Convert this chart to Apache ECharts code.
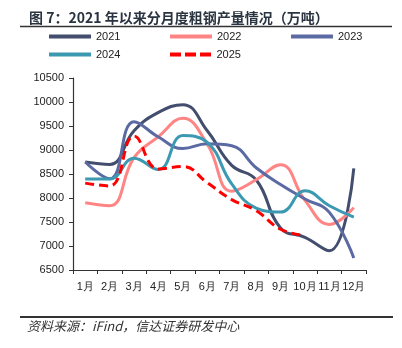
<!DOCTYPE html>
<html>
<head>
<meta charset="utf-8">
<style>
  html, body { margin: 0; padding: 0; background: #ffffff; }
  #chart { width: 402px; height: 348px; }
</style>
<script src="https://cdn.jsdelivr.net/npm/echarts@6/dist/echarts.min.js"></script>
</head>
<body>
<div id="chart"></div>
<script>
// Monthly crude steel output (10k tonnes)
const months = ['1月', '2月', '3月', '4月', '5月', '6月', '7月', '8月', '9月', '10月', '11月', '12月'];
const y2021 = [8750, 8700, 9402, 9785, 9945, 9400, 8679, 8380, 7375, 7180, 6900, 8619];
const y2022 = [7900, 7840, 8840, 9278, 9661, 9120, 8143, 8380, 8695, 7950, 7450, 7800];
const y2023 = [8750, 8400, 9590, 9270, 9030, 9130, 9090, 8630, 8280, 7980, 7700, 6750];
const y2024 = [8398, 8398, 8827, 8594, 9300, 9161, 8294, 7790, 7707, 8150, 7839, 7600];
const y2025 = [8310, 8250, 9290, 8602, 8655, 8318, 7966, 7737, 7349, 7220];
const yearNames = ['2021', '2022', '2023', '2024', '2025'];
const yTicks = { min: 6500, max: 10500, step: 500 };

const colors = ['#434d6d', '#ff8585', '#5b6aa3', '#3c99b2', '#ff0000'];
const seriesData = [y2021, y2022, y2023, y2024, y2025];

const chart = echarts.init(document.getElementById('chart'), null, { renderer: 'canvas' });

const legendPos = [
  { left: 49, top: 31 },
  { left: 170, top: 31 },
  { left: 291, top: 31 },
  { left: 49, top: 49 },
  { left: 170, top: 49 }
];
// legend keys: a solid bar, or three dashes for the dashed series
const solidIcon = 'path://M0,0L42,0L42,4L0,4Z';
const dashedIcon = 'path://M0,0h11v4h-11z M15,0h11v4h-11z M30,0h11v4h-11z';

const option = {
  backgroundColor: '#ffffff',
  animation: false,
  title: {
    text: '图 7：2021 年以来分月度粗钢产量情况（万吨）',
    left: 24,
    top: 6,
    textStyle: {
      fontFamily: 'Noto Sans CJK SC',
      fontSize: 14,
      fontWeight: 'bold',
      color: '#2a3441'
    }
  },
  graphic: [
    { type: 'line', shape: { x1: 20, y1: 26.5, x2: 392, y2: 26.5 }, style: { stroke: '#333333', lineWidth: 1.5 } },
    { type: 'line', shape: { x1: 20, y1: 317, x2: 393, y2: 317 }, style: { stroke: '#333333', lineWidth: 2 } },
    {
      type: 'text', left: 27, top: 320,
      style: {
        text: '资料来源：iFind，信达证券研发中心',
        font: 'italic 13px "Noto Sans CJK SC"',
        fill: '#333333'
      }
    }
  ],
  legend: yearNames.map((name, i) => ({
    data: [{ name: name, icon: i === 4 ? dashedIcon : solidIcon }],
    left: legendPos[i].left,
    top: legendPos[i].top,
    itemWidth: 42,
    itemHeight: 4,
    itemGap: 5,
    padding: 0,
    textStyle: { fontFamily: 'Liberation Sans', fontSize: 11, color: '#222222' }
  })),
  grid: { left: 73, right: 36, top: 78, bottom: 78, containLabel: false },
  xAxis: {
    type: 'category',
    data: months,
    boundaryGap: true,
    axisLine: { lineStyle: { color: '#333333', width: 1.2 } },
    axisTick: { show: true, length: 4, lineStyle: { color: '#333333' } },
    axisLabel: { fontFamily: 'Liberation Sans', fontSize: 11, color: '#222222', margin: 11, interval: 0 },
    splitLine: { show: false }
  },
  yAxis: {
    type: 'value',
    min: yTicks.min,
    max: yTicks.max,
    interval: yTicks.step,
    axisLine: { show: true, lineStyle: { color: '#333333', width: 1.2 } },
    axisTick: { show: true, length: 4, lineStyle: { color: '#333333' } },
    axisLabel: {
      fontFamily: 'Liberation Sans', fontSize: 11, color: '#222222', margin: 9,
      formatter: (v) => String(v)
    },
    splitLine: { show: false }
  },
  series: yearNames.map((name, i) => ({
    name: name,
    type: 'line',
    data: seriesData[i],
    smooth: 0.45,
    symbol: 'none',
    color: colors[i],
    lineStyle: {
      color: colors[i],
      width: 3,
      type: i === 4 ? [9, 5] : 'solid'
    },
    z: 2 + i
  }))
};

chart.setOption(option);
</script>
</body>
</html>
